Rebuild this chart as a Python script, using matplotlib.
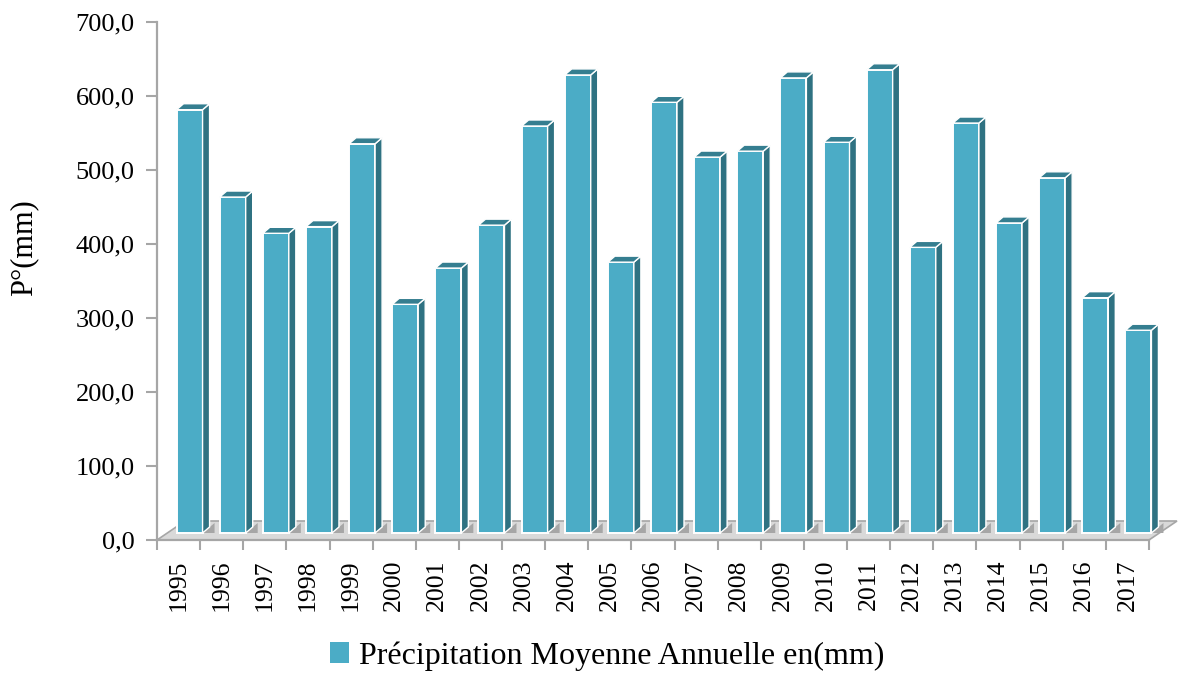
import matplotlib.pyplot as plt
from matplotlib.patches import Polygon, Patch

annees = [str(a) for a in range(1995, 2018)]
precip = [572, 454, 405, 414, 526, 309, 358, 416, 550, 619, 366, 582,
          508, 516, 615, 528, 626, 386, 554, 419, 480, 318, 274]
yticks = [0, 100, 200, 300, 400, 500, 600, 700]
ylabels = ["0,0", "100,0", "200,0", "300,0", "400,0", "500,0", "600,0", "700,0"]

c_face = "#4BACC6"
c_side = "#2F7282"
c_top = "#357E90"
c_floor = "#D9D9D9"
c_gris = "#A6A6A6"

plt.rcParams['font.family'] = ['Liberation Serif', 'DejaVu Serif']

fig = plt.figure(figsize=(11.78, 6.75), dpi=100)
ax = fig.add_axes([157 / 1178, 135 / 675, 992 / 1178, 518 / 675])
n = len(precip)
ax.set_xlim(-0.5, n - 0.5)
ax.set_ylim(0, 700)

# pixels -> unites de donnees
sx = ax.bbox.width / n
sy = ax.bbox.height / 700.0


def dp(px, py):
    return px / sx, py / sy


# sol (floor) en pseudo 3D
fdx, fdy = dp(28, 19)
sol = Polygon([(-0.5, 0), (n - 0.5, 0), (n - 0.5 + fdx, fdy), (-0.5 + fdx, fdy)],
              closed=True, facecolor=c_floor, edgecolor=c_gris, lw=1.2,
              clip_on=False, zorder=1)
ax.add_patch(sol)

w = 26 / sx
ox, oy = dp(11, 7)      # decalage de la face avant
px_, py_ = dp(7, 6)     # profondeur de la barre
shx, shy = dp(12, 10)

for i, v in enumerate(precip):
    x0 = i - w / 2 + ox
    x1 = x0 + w
    y0 = oy
    y1 = v + oy
    # ombre sur le sol
    ax.add_patch(Polygon([(x1, y0), (x1 + shx, y0 + shy), (x1 + shx, y0)],
                         closed=True, facecolor=c_gris, edgecolor="none",
                         clip_on=False, zorder=2))
    # face avant
    ax.add_patch(Polygon([(x0, y0), (x1, y0), (x1, y1), (x0, y1)], closed=True,
                         facecolor=c_face, edgecolor="white", lw=1.4,
                         clip_on=False, zorder=3))
    # cote
    ax.add_patch(Polygon([(x1, y0), (x1 + px_, y0 + py_), (x1 + px_, y1 + py_), (x1, y1)],
                         closed=True, facecolor=c_side, edgecolor="white", lw=1.0,
                         clip_on=False, zorder=3))
    # dessus
    ax.add_patch(Polygon([(x0, y1), (x1, y1), (x1 + px_, y1 + py_), (x0 + px_, y1 + py_)],
                         closed=True, facecolor=c_top, edgecolor="white", lw=1.0,
                         clip_on=False, zorder=3))

for s in ["top", "right"]:
    ax.spines[s].set_visible(False)
for s in ["left", "bottom"]:
    ax.spines[s].set_color(c_gris)
    ax.spines[s].set_linewidth(1.6)
    ax.spines[s].set_zorder(4)

ax.set_yticks(yticks)
ax.set_yticklabels(ylabels, fontsize=19)
ax.tick_params(axis="y", length=8, width=1.5, color=c_gris, pad=8)

ax.set_xticks([k - 0.5 for k in range(n + 1)])
ax.set_xticklabels([])
ax.tick_params(axis="x", which="major", length=7, width=1.5, color=c_gris)
ax.set_xticks(range(n), minor=True)
ax.set_xticklabels(annees, minor=True, rotation=90, fontsize=18.5)
ax.tick_params(axis="x", which="minor", length=0, pad=14)

ax.set_ylabel("P°(mm)", fontsize=22)
ax.yaxis.set_label_coords(-0.12, 0.565)

handle = Patch(facecolor=c_face, edgecolor="none")
fig.legend([handle], ["Précipitation Moyenne Annuelle en(mm)"],
           loc="center", bbox_to_anchor=(607 / 1178, 1 - 656 / 675),
           frameon=False, fontsize=23, handlelength=0.6, handleheight=0.6,
           handletextpad=0.3)

fig.savefig("out.png", dpi=100)
